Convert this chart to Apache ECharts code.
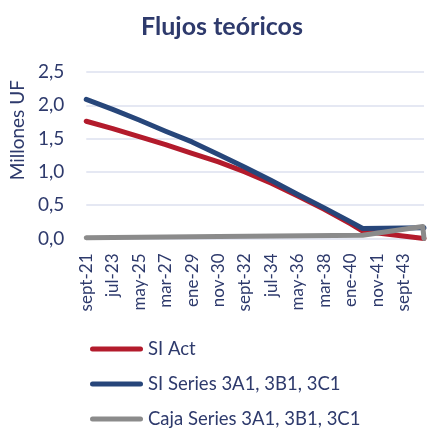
<!DOCTYPE html>
<html>
<head>
<meta charset="utf-8">
<script src="https://cdn.jsdelivr.net/npm/echarts@6/dist/echarts.min.js"></script>
<style>
  html, body { margin: 0; padding: 0; background: #fff; }
  #chart { width: 427px; height: 430px; }
</style>
</head>
<body>
<div id="chart"></div>
<script>
var myChart = echarts.init(document.getElementById('chart'));

// monthly categories, sept-21 onwards
const monthNames = ['ene', 'feb', 'mar', 'abr', 'may', 'jun', 'jul', 'ago', 'sept', 'oct', 'nov', 'dic'];
const startYear = 2021;
const startMonth = 8;
const monthCount = 282;

// [month index, millones UF]
const siAct = [[0, 1.76], [22, 1.65], [44, 1.53], [66, 1.41], [88, 1.28], [110, 1.15], [132, 1.00],
  [154, 0.83], [176, 0.64], [198, 0.44], [220, 0.22], [230, 0.11], [281, 0.0]];
const siSeries = [[0, 2.09], [22, 1.94], [44, 1.78], [66, 1.61], [88, 1.45], [110, 1.26], [132, 1.07],
  [154, 0.87], [176, 0.66], [198, 0.46], [220, 0.25], [230, 0.15], [281, 0.16]];
const cajaSeries = [[0, 0.01], [110, 0.03], [230, 0.05], [280, 0.18], [281, 0.0]];

const categories = [];
for (let i = 0; i < monthCount; i++) {
  const m = (startMonth + i) % 12;
  const y = startYear + Math.floor((startMonth + i) / 12);
  categories.push(monthNames[m] + '-' + String(y).slice(2));
}

const navy = '#2e3a6c';
const font = 'Lato';

function lineSeries(name, data, color) {
  return {
    name: name,
    type: 'line',
    data: data,
    showSymbol: false,
    lineStyle: { width: 5, color: color, cap: 'round', join: 'round' },
    itemStyle: { color: color },
    emphasis: { disabled: true }
  };
}

const pill = 'path://M2.5,0 H50.5 A2.5,2.5 0 0 1 50.5,5 H2.5 A2.5,2.5 0 0 1 2.5,0 Z';

var option = {
  animation: false,
  title: {
    text: 'Flujos teóricos',
    left: 217,
    textAlign: 'center',
    top: 9,
    textStyle: { fontFamily: font, fontWeight: 'bold', fontSize: 25, color: navy }
  },
  legend: {
    orient: 'vertical',
    left: 90,
    top: 339,
    padding: 0,
    itemWidth: 53,
    itemHeight: 5,
    itemGap: 15,
    icon: pill,
    textStyle: { fontFamily: font, fontSize: 18.5, color: navy, lineHeight: 20 },
    data: ['SI Act', 'SI Series 3A1, 3B1, 3C1', 'Caja Series 3A1, 3B1, 3C1']
  },
  grid: { left: 85, right: 3, top: 72, bottom: 191.5, containLabel: false },
  xAxis: {
    type: 'category',
    data: categories,
    boundaryGap: false,
    axisLine: { show: false },
    axisTick: { show: false },
    axisLabel: {
      interval: 21,
      rotate: 90,
      margin: 15,
      fontFamily: font,
      fontSize: 17,
      color: navy
    }
  },
  yAxis: {
    type: 'value',
    min: 0,
    max: 2.5,
    interval: 0.5,
    name: 'Millones UF',
    nameLocation: 'middle',
    nameRotate: 90,
    nameGap: 58,
    nameTextStyle: { fontFamily: font, fontSize: 19, color: navy, padding: [0, 0, 0, 50] },
    axisLine: { show: false },
    axisTick: { show: false },
    splitLine: { lineStyle: { color: '#dde0ef', width: 1.5 } },
    axisLabel: {
      margin: 22,
      fontFamily: font,
      fontSize: 19,
      color: navy,
      formatter: function (v) { return v.toFixed(1).replace('.', ','); }
    }
  },
  series: [
    lineSeries('SI Act', siAct, '#b31b2c'),
    lineSeries('SI Series 3A1, 3B1, 3C1', siSeries, '#27467a'),
    lineSeries('Caja Series 3A1, 3B1, 3C1', cajaSeries, '#8b8b8b')
  ]
};

myChart.setOption(option);
</script>
</body>
</html>
